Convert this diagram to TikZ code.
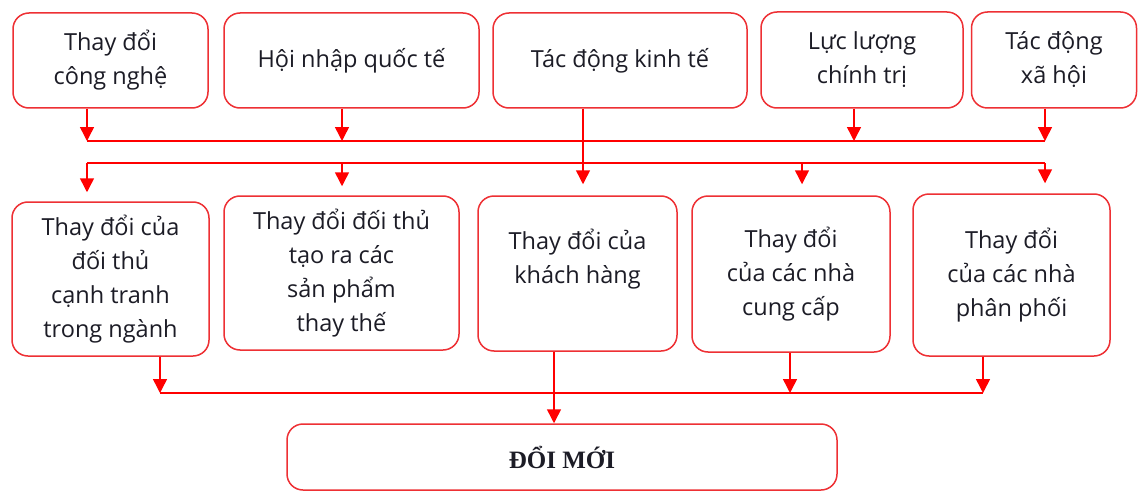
\documentclass[tikz,border=0pt]{standalone}
\usepackage{fontspec}
\setmainfont{Open Sans}
\newfontfamily\titlefont{Liberation Serif}
\usetikzlibrary{arrows.meta}
\definecolor{boxred}{RGB}{238,48,52}
\definecolor{linered}{RGB}{255,0,0}
\definecolor{txtcol}{RGB}{28,28,38}
\tikzset{
  box/.style={draw=boxred, line width=1.5pt, rounded corners=16pt, rectangle, inner sep=0pt, fill=white,
    align=center, text=txtcol, font=\fontsize{23.5}{34}\selectfont},
  txt/.style={align=center, text=txtcol, font=\fontsize{23.5}{34}\selectfont, inner sep=0pt},
  conn/.style={draw=linered, line width=1.5pt},
  arr/.style={conn, -{Triangle[width=14pt,length=14pt]}},
}
\begin{document}
\begin{tikzpicture}[x=1pt,y=-1pt]
\useasboundingbox[fill=white] (0,0) rectangle (1139,492);
% top row
\node[box, minimum width=195pt, minimum height=95pt] (T1) at (110.5,60.5) {Thay đổi\\công nghệ};
\node[box, minimum width=255pt, minimum height=95pt] (T2) at (351.5,60.5) {Hội nhập quốc tế};
\node[box, minimum width=254pt, minimum height=95pt] (T3) at (620,60.5) {Tác động kinh tế};
\node[box, minimum width=202pt, minimum height=96pt] (T4) at (862,60) {Lực lượng\\chính trị};
\node[box, minimum width=165pt, minimum height=96pt] (T5) at (1054,60) {Tác động\\xã hội};
% middle row
\node[box, minimum width=197pt, minimum height=154pt] (M1) at (110.5,279) {Thay đổi của\\đối thủ\\cạnh tranh\\trong ngành};
\node[box, minimum width=235pt, minimum height=154pt] (M2) at (341.5,273) {Thay đổi đối thủ\\tạo ra các\\sản phẩm\\thay thế};
\node[box, minimum width=199pt, minimum height=155pt] (M3) at (577.5,273.5) {};
\node[txt] (M3t) at (577.5,259) {Thay đổi của\\khách hàng};
\node[box, minimum width=198pt, minimum height=156pt] (M4) at (791,274) {Thay đổi\\của các nhà\\cung cấp};
\node[box, minimum width=197pt, minimum height=162pt] (M5) at (1011.5,275) {Thay đổi\\của các nhà\\phân phối};
% bottom
\node[box, minimum width=550pt, minimum height=66pt, font=\titlefont\bfseries\fontsize{25}{30}\selectfont] (B) at (562,457) {ĐỔI MỚI};
% connector coordinates
\coordinate (h1a) at (87,141);
\coordinate (h1b) at (342,141);
\coordinate (h1c) at (854,141);
\coordinate (h1d) at (1045,141);
\coordinate (h2a) at (87,163);
\coordinate (h2b) at (342,163);
\coordinate (h2c) at (802,163);
\coordinate (h2d) at (1045,163);
\coordinate (vk) at (583,163);
\coordinate (b1) at (160,393);
\coordinate (b3) at (790,393);
\coordinate (b4) at (983,393);
\coordinate (bm) at (554,393);
% first bus
\draw[conn] (h1a) -- (h1d);
\draw[arr] (h1a |- T1.south) -- (h1a);
\draw[arr] (h1b |- T2.south) -- (h1b);
\draw[arr] (h1c |- T4.south) -- (h1c);
\draw[arr] (h1d |- T5.south) -- (h1d);
% second bus
\draw[conn] (h2a) -- (h2d);
\draw[arr, shorten >=9pt] (h2a) -- (h2a |- M1.north);
\draw[arr, shorten >=9pt] (h2b) -- (h2b |- M2.north);
\draw[arr, shorten >=11pt] (h2c) -- (h2c |- M4.north);
\draw[arr, shorten >=10pt] (h2d) -- (h2d |- M5.north);
% economic impact
\draw[arr, shorten >=11pt] (vk |- T3.south) -- (vk |- M3.north);
% bottom bus
\draw[conn] (b1) -- (b4);
\draw[arr] (b1 |- M1.south) -- (b1);
\draw[arr] (b3 |- M4.south) -- (b3);
\draw[arr] (b4 |- M5.south) -- (b4);
\draw[arr] (bm |- M3.south) -- (bm |- B.north);
\end{tikzpicture}
\end{document}
